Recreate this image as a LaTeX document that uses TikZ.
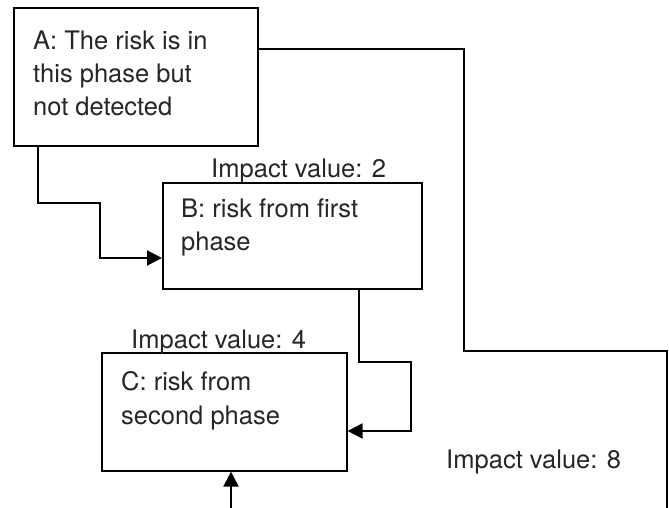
\documentclass[tikz,border=0pt]{standalone}
\usepackage{fontspec}
\setmainfont{TeX Gyre Heros}
\usetikzlibrary{arrows.meta,calc}
\begin{document}
\begin{tikzpicture}[x=1pt,y=-1pt,
  box/.style={draw=black, line width=1.6pt, rectangle, anchor=north west, inner sep=0pt},
  txt/.style={anchor=base west, inner sep=0pt, font=\fontsize{25.5}{33}\selectfont, text=black!85},
  conn/.style={draw=black, line width=2pt},
  arr/.style={conn, -{Triangle[length=15pt,width=15pt]}}]
\useasboundingbox (0,0) rectangle (669,508);
% boxes
\node[box, minimum width=244pt, minimum height=138pt] (A) at (13,7) {};
\node[box, minimum width=259pt, minimum height=106pt] (B) at (162,182) {};
\node[box, minimum width=245pt, minimum height=118pt] (C) at (101,352) {};
% box texts
\node[txt] (At) at (33,50) {\begin{tabular}[t]{@{}l@{}}A: The risk is in\\this phase but\\not detected\end{tabular}};
\node[txt] (Bt) at (181,217) {\begin{tabular}[t]{@{}l@{}}B: risk from first\\phase\end{tabular}};
\node[txt] (Ct) at (121,390) {\begin{tabular}[t]{@{}l@{}}C: risk from\\[1pt]second phase\end{tabular}};
% impact labels
\node[txt] (L2) at (211,177) {Impact value: 2};
\node[txt] (L4) at (131,348) {Impact value: 4};
\node[txt] (L8) at (446,468) {Impact value: 8};
% connector anchor points
\coordinate (Aout) at ($(A.north east)+(0,42)$);
\coordinate (E8) at (667,512);
\coordinate (Abot) at ($(A.south west)+(25,0)$);
\coordinate (Bin) at ($(B.north west)+(0,76)$);
\coordinate (Bbot) at ($(B.south west)+(197,0)$);
\coordinate (Cin) at ($(C.north east)+(0,79)$);
\coordinate (S) at (231,512);
\coordinate (Cbot) at ($(C.south west)+(130,0)$);
% connectors
\draw[conn] (Aout) -- ++(205,0) -- ++(0,302) -| (E8);
\draw[arr] (Abot) -- ++(0,56) -- ++(62,0) |- (Bin);
\draw[arr] (Bbot) -- ++(0,72) -- ++(52,0) |- (Cin);
\draw[arr] (S) -- (Cbot);
\end{tikzpicture}
\end{document}
